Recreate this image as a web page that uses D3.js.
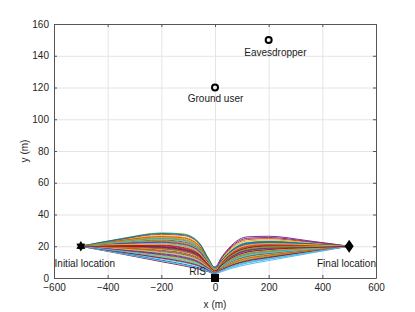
<!DOCTYPE html>
<meta charset="utf-8">
<style>
body { margin: 0; background: #fff; }
text { font-family: "Liberation Sans", Arial, sans-serif; }
.grid line { stroke: #e4e4e4; stroke-width: 1; }
.grid path { display: none; }
.axis path, .axis line { stroke: #555; stroke-width: 1; }
.axis text { fill: #262626; font-size: 10px; }
.traj { fill: none; stroke-width: 1; }
</style>
<body></body>
<script src="https://d3js.org/d3.v7.min.js"></script>
<script>

// tick values
var xTicks = [-600, -400, -200, 0, 200, 400, 600];
var yTicks = [0, 20, 40, 60, 80, 100, 120, 140, 160];

// sample x positions of every trajectory (m)
var trajXs = [-500, -350, -200, -120, -60, -25, 0, 25, 60, 120, 200, 350, 500];

// y values (m) of each UAV trajectory
var trajectories = [
  [20, 20.0, 19.4, 17.8, 14.1, 8.3, 4.5, 9.1, 13.9, 18.1, 19.4, 19.8, 20],
  [20, 22.9, 24.8, 23.8, 19.1, 10.8, 5.5, 7.2, 11.0, 14.6, 16.4, 18.3, 20],
  [20, 23.8, 26.6, 25.8, 20.8, 11.7, 6.0, 10.4, 16.0, 20.7, 21.7, 21.0, 20],
  [20, 21.0, 21.2, 19.8, 15.7, 9.1, 7.0, 13.2, 20.3, 25.9, 26.3, 23.4, 20],
  [20, 24.8, 28.4, 27.8, 22.5, 12.5, 6.5, 11.4, 17.4, 22.4, 23.2, 21.8, 20],
  [20, 18.1, 15.7, 13.8, 10.7, 6.6, 3.0, 4.0, 6.0, 8.5, 11.0, 15.5, 20],
  [20, 15.2, 10.3, 7.8, 5.6, 4.0, 2.5, 6.8, 10.3, 13.7, 15.6, 17.9, 20],
  [20, 19.0, 17.5, 15.8, 12.4, 7.4, 4.0, 8.6, 13.2, 17.2, 18.7, 19.5, 20],
  [20, 21.9, 23.0, 21.8, 17.4, 10.0, 5.5, 12.3, 18.9, 24.2, 24.8, 22.6, 20],
  [20, 17.1, 13.9, 11.8, 9.0, 5.7, 3.0, 5.8, 8.9, 12.0, 14.1, 17.1, 20],
  [20, 19.5, 18.4, 16.8, 13.2, 7.8, 4.5, 10.0, 15.3, 19.8, 21.0, 20.6, 20],
  [20, 21.4, 22.1, 20.8, 16.6, 9.5, 5.0, 6.8, 10.3, 13.7, 15.6, 17.9, 20],
  [20, 16.2, 12.1, 9.8, 7.3, 4.9, 3.0, 4.9, 7.4, 10.2, 12.5, 16.3, 20],
  [20, 22.4, 23.9, 22.8, 18.3, 10.4, 5.5, 9.5, 14.6, 18.9, 20.2, 20.2, 20],
  [20, 18.6, 16.6, 14.8, 11.5, 7.0, 4.0, 7.7, 11.7, 15.5, 17.1, 18.7, 20],
  [20, 24.3, 27.5, 26.8, 21.7, 12.1, 6.0, 8.1, 12.4, 16.3, 17.9, 19.1, 20],
  [20, 19.3, 18.0, 16.3, 12.8, 7.6, 4.5, 11.8, 18.2, 23.3, 24.0, 22.2, 20],
  [20, 20.5, 20.3, 18.8, 14.9, 8.7, 5.0, 5.4, 8.1, 11.1, 13.3, 16.7, 20],
  [20, 16.6, 13.0, 10.8, 8.1, 5.3, 3.5, 9.3, 14.2, 18.5, 19.8, 20.0, 20],
  [20, 21.2, 21.6, 20.3, 16.2, 9.3, 5.5, 8.4, 12.8, 16.8, 18.3, 19.3, 20],
  [20, 20.2, 19.8, 18.3, 14.5, 8.5, 5.0, 8.8, 13.5, 17.6, 19.0, 19.6, 20],
  [20, 15.7, 11.2, 8.8, 6.4, 4.4, 2.5, 6.5, 9.9, 13.3, 15.2, 17.7, 20],
  [20, 18.8, 17.1, 15.3, 11.9, 7.2, 4.0, 9.8, 14.9, 19.4, 20.6, 20.4, 20],
  [20, 23.4, 25.7, 24.8, 20.0, 11.2, 6.0, 6.3, 9.6, 12.9, 14.8, 17.5, 20],
  [20, 17.8, 15.3, 13.3, 10.2, 6.3, 4.0, 10.7, 16.4, 21.1, 22.1, 21.2, 20],
  [20, 22.2, 23.4, 22.3, 17.9, 10.2, 5.0, 7.5, 11.4, 15.0, 16.7, 18.5, 20],
  [20, 15.4, 10.8, 8.3, 6.0, 4.2, 2.0, 4.5, 6.7, 9.4, 11.8, 15.9, 20],
  [20, 20.7, 20.7, 19.3, 15.3, 8.9, 5.0, 9.5, 14.6, 18.9, 20.2, 20.2, 20],
  [20, 19.8, 18.9, 17.3, 13.6, 8.0, 4.5, 10.9, 16.7, 21.6, 22.5, 21.4, 20],
  [20, 23.6, 26.1, 25.3, 20.4, 11.4, 6.0, 10.2, 15.7, 20.2, 21.3, 20.8, 20],
  [20, 18.3, 16.2, 14.3, 11.1, 6.8, 4.0, 7.9, 12.1, 15.9, 17.5, 18.9, 20],
  [20, 21.7, 22.5, 21.3, 17.0, 9.7, 5.5, 12.7, 19.6, 25.0, 25.5, 23.0, 20],
  [20, 17.4, 14.4, 12.3, 9.4, 5.9, 3.5, 5.6, 8.5, 11.5, 13.7, 16.9, 20],
  [20, 22.6, 24.3, 23.3, 18.7, 10.6, 5.5, 7.0, 10.6, 14.2, 16.0, 18.1, 20],
  [20, 16.4, 12.6, 10.3, 7.7, 5.1, 3.0, 5.2, 7.8, 10.7, 12.9, 16.5, 20],
  [20, 24.6, 28.0, 27.3, 22.1, 12.3, 6.5, 11.1, 17.1, 22.0, 22.9, 21.6, 20],
  [20, 19.5, 18.4, 16.8, 13.2, 7.8, 4.5, 6.1, 9.2, 12.4, 14.4, 17.3, 20],
  [20, 21.0, 21.2, 19.8, 15.7, 9.1, 5.0, 10.4, 16.0, 20.7, 21.7, 21.0, 20],
  [20, 17.6, 14.8, 12.8, 9.8, 6.1, 3.5, 8.6, 13.2, 17.2, 18.7, 19.5, 20],
  [20, 23.1, 25.2, 24.3, 19.5, 11.0, 6.0, 9.1, 13.9, 18.1, 19.4, 19.8, 20],
  [20, 16.9, 13.5, 11.3, 8.6, 5.5, 3.0, 4.7, 7.1, 9.8, 12.1, 16.1, 20],
  [20, 20.0, 19.4, 17.8, 14.1, 8.3, 4.5, 8.1, 12.4, 16.3, 17.9, 19.1, 20]
];

// MATLAB default line colour order
var colors = ["#0072BD", "#D95319", "#EDB120", "#7E2F8E", "#77AC30", "#4DBEEE", "#A2142F"];

// nodes [x, y]
var initialLoc = [-500, 20];
var finalLoc = [500, 20];
var risLoc = [0, 0];
var userLoc = [0, 120];
var eveLoc = [200, 150];

// text annotations [x, y, label]
var labels = [
  [225, 142, "Eavesdropper"],
  [2, 113, "Ground user"],
  [-485, 9, "Initial location"],
  [490, 9, "Final location"],
  [-65, 4, "RIS"]
];

var margin = {top: 24, right: 39, bottom: 34, left: 54},
    width = 415 - margin.left - margin.right,
    height = 312 - margin.top - margin.bottom;

var svg = d3.select("body").append("svg")
    .attr("width", 415)
    .attr("height", 312)
  .append("g")
    .attr("transform", "translate(" + margin.left + "," + margin.top + ")");

var xScale = d3.scaleLinear().domain([-600, 600]).range([0, width]);
var yScale = d3.scaleLinear().domain([0, 160]).range([height, 0]);

// grid
svg.append("g")
    .attr("class", "grid")
    .attr("transform", "translate(0," + height + ")")
    .call(d3.axisBottom(xScale).tickValues(xTicks).tickSize(-height).tickFormat(""));
svg.append("g")
    .attr("class", "grid")
    .call(d3.axisLeft(yScale).tickValues(yTicks).tickSize(-width).tickFormat(""));

// trajectories
var line = d3.line()
    .x(function(d, i) { return xScale(trajXs[i]); })
    .y(function(d) { return yScale(d); })
    .curve(d3.curveMonotoneX);

svg.selectAll(".traj")
    .data(trajectories)
  .enter().append("path")
    .attr("class", "traj")
    .attr("stroke", function(d, i) { return colors[i % colors.length]; })
    .attr("d", line);

// axes box with inward ticks
svg.append("g")
    .attr("class", "axis")
    .attr("transform", "translate(0," + height + ")")
    .call(d3.axisBottom(xScale).tickValues(xTicks).tickSizeInner(-3).tickSizeOuter(0).tickPadding(6));
svg.append("g")
    .attr("class", "axis")
    .call(d3.axisTop(xScale).tickValues(xTicks).tickSizeInner(-3).tickSizeOuter(0).tickFormat(""));
svg.append("g")
    .attr("class", "axis")
    .call(d3.axisLeft(yScale).tickValues(yTicks).tickSizeInner(-3).tickSizeOuter(0).tickPadding(5));
svg.append("g")
    .attr("class", "axis")
    .attr("transform", "translate(" + width + ",0)")
    .call(d3.axisRight(yScale).tickValues(yTicks).tickSizeInner(-3).tickSizeOuter(0).tickFormat(""));

// markers
var hexagram = {
  draw: function(ctx, size) {
    var r = Math.sqrt(size) / 2;
    for (var k = 0; k < 12; k++) {
      var a = -Math.PI / 2 + k * Math.PI / 6;
      var rr = (k % 2) ? r * 0.58 : r;
      if (k === 0) ctx.moveTo(rr * Math.cos(a), rr * Math.sin(a));
      else ctx.lineTo(rr * Math.cos(a), rr * Math.sin(a));
    }
    ctx.closePath();
  }
};
var diamond = {
  draw: function(ctx, size) {
    var h = Math.sqrt(size) / 2, w = h * 0.68;
    ctx.moveTo(0, -h); ctx.lineTo(w, 0); ctx.lineTo(0, h); ctx.lineTo(-w, 0); ctx.closePath();
  }
};

svg.append("path")
    .attr("transform", "translate(" + xScale(initialLoc[0]) + "," + yScale(initialLoc[1]) + ")")
    .attr("d", d3.symbol().type(hexagram).size(110)())
    .attr("fill", "#000");

svg.append("path")
    .attr("transform", "translate(" + xScale(finalLoc[0]) + "," + yScale(finalLoc[1]) + ")")
    .attr("d", d3.symbol().type(diamond).size(175)())
    .attr("fill", "#000");

svg.append("path")
    .attr("transform", "translate(" + xScale(risLoc[0]) + "," + yScale(risLoc[1]) + ")")
    .attr("d", d3.symbol().type(d3.symbolSquare).size(64)())
    .attr("fill", "#000");

svg.selectAll(".node")
    .data([userLoc, eveLoc])
  .enter().append("circle")
    .attr("class", "node")
    .attr("cx", function(d) { return xScale(d[0]); })
    .attr("cy", function(d) { return yScale(d[1]); })
    .attr("r", 3)
    .attr("fill", "none")
    .attr("stroke", "#000")
    .attr("stroke-width", 2);

// annotations
svg.selectAll(".label")
    .data(labels)
  .enter().append("text")
    .attr("class", "label")
    .attr("x", function(d) { return xScale(d[0]); })
    .attr("y", function(d) { return yScale(d[1]); })
    .attr("dy", "0.35em")
    .attr("text-anchor", "middle")
    .style("font-size", "10px")
    .style("fill", "#1a1a1a")
    .text(function(d) { return d[2]; });

// axis labels
svg.append("text")
    .attr("x", width / 2)
    .attr("y", height + 30)
    .attr("text-anchor", "middle")
    .style("font-size", "10px")
    .style("fill", "#262626")
    .text("x (m)");

svg.append("text")
    .attr("transform", "rotate(-90)")
    .attr("x", -height / 2)
    .attr("y", -26)
    .attr("text-anchor", "middle")
    .style("font-size", "10px")
    .style("fill", "#262626")
    .text("y (m)");

</script>
